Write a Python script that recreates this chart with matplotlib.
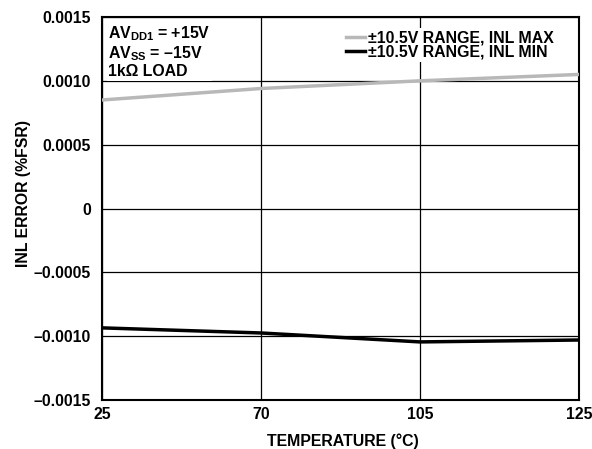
import matplotlib
matplotlib.use("Agg")
import matplotlib.pyplot as plt

plt.rcParams['font.family'] = ['Liberation Sans', 'DejaVu Sans']
plt.rcParams['font.weight'] = 'bold'
plt.rcParams['mathtext.fontset'] = 'custom'
plt.rcParams['mathtext.rm'] = 'Liberation Sans:bold'
plt.rcParams['mathtext.bf'] = 'Liberation Sans:bold'

temperatures = ["25", "70", "105", "125"]
inl_max = [0.00085, 0.00094, 0.00100, 0.00105]
inl_min = [-0.000935, -0.000975, -0.001045, -0.00103]
y_ticks = [-0.0015, -0.0010, -0.0005, 0, 0.0005, 0.0010, 0.0015]
y_tick_labels = ["–0.0015", "–0.0010", "–0.0005", "0", "0.0005", "0.0010", "0.0015"]

FS = 11.4

fig = plt.figure(figsize=(5.92, 4.49), dpi=100)
ax = fig.add_axes([102/592, 1 - 400/449, (579-102)/592, (400-17)/449])

x = list(range(len(temperatures)))
ax.plot(x, inl_max, color='#b8b8b8', lw=2.5, label='±10.5V RANGE, INL MAX', zorder=3)
ax.plot(x, inl_min, color='black', lw=2.5, label='±10.5V RANGE, INL MIN', zorder=3)

ax.set_xlim(0, 3)
ax.set_ylim(-0.0015, 0.0015)
ax.set_xticks(x)
ax.set_xticklabels(temperatures)
ax.set_yticks(y_ticks)
ax.set_yticklabels(y_tick_labels)
ax.tick_params(length=0, labelsize=FS)
ax.tick_params(axis='y', pad=8)
ax.tick_params(axis='x', pad=5)
for lbl in ax.get_xticklabels() + ax.get_yticklabels():
    lbl.set_fontweight('bold')

ax.grid(True, color='black', lw=0.9)
for s in ax.spines.values():
    s.set_linewidth(1.5)

ax.set_xlabel('TEMPERATURE (°C)', fontsize=FS, fontweight='bold')
ax.set_ylabel('INL ERROR (%FSR)', fontsize=FS, fontweight='bold')
ax.xaxis.set_label_coords(0.504, -0.088)
ax.yaxis.set_label_coords(-0.148, 0.539)

ax.text(0.013, 0.982, 'AV$_{\\mathrm{DD1}}$ = +15V\nAV$_{\\mathrm{SS}}$ = –15V\n1kΩ LOAD',
        transform=ax.transAxes, ha='left', va='top', fontsize=FS, fontweight='bold',
        linespacing=1.12,
        bbox=dict(facecolor='white', edgecolor='none', pad=1.0))

leg = ax.legend(loc='upper right', bbox_to_anchor=(0.952, 0.972), frameon=True,
                fontsize=FS, handlelength=1.25, handletextpad=0.15, labelspacing=-0.05,
                borderpad=0.15, borderaxespad=0)
leg.get_frame().set_facecolor('white')
leg.get_frame().set_edgecolor('none')
leg.get_frame().set_alpha(1)
for t in leg.get_texts():
    t.set_fontweight('bold')

fig.savefig('out.png', dpi=100)
